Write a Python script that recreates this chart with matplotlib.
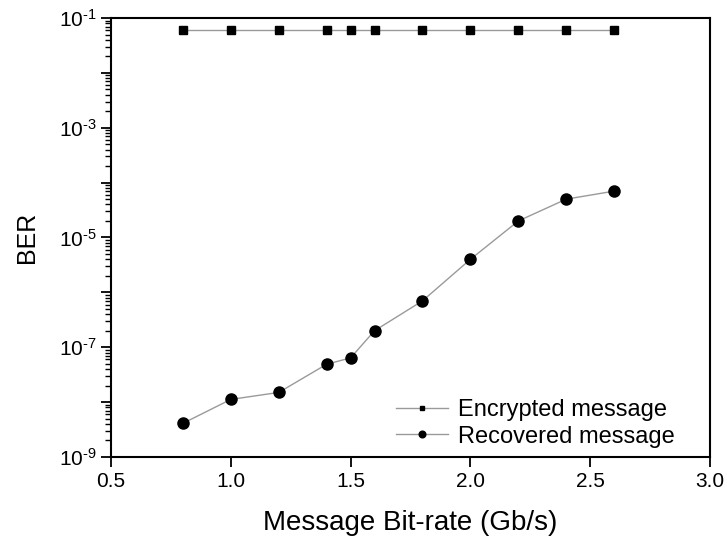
import numpy as np
import matplotlib
matplotlib.use("Agg")
import matplotlib.pyplot as plt
from matplotlib.ticker import LogLocator, FixedLocator, NullFormatter

plt.rcParams['font.family'] = ['Liberation Sans', 'DejaVu Sans']
plt.rcParams['mathtext.fontset'] = 'custom'
plt.rcParams['mathtext.rm'] = 'Liberation Sans'
plt.rcParams['mathtext.it'] = 'Liberation Sans'

# bit-rates (Gb/s)
bitrate = [0.8, 1.0, 1.2, 1.4, 1.5, 1.6, 1.8, 2.0, 2.2, 2.4, 2.6]
ber_encrypted = [6e-2] * len(bitrate)
ber_recovered = [4.1e-9, 1.12e-8, 1.5e-8, 4.9e-8, 6.4e-8, 2.0e-7,
                 7.0e-7, 4.0e-6, 2.0e-5, 5.0e-5, 7.0e-5]

fig = plt.figure(figsize=(7.27, 5.41), dpi=100)
ax = fig.add_axes([0.1527, 0.1553, 0.8239, 0.8114])

ax.plot(bitrate, ber_encrypted, color='#9a9a9a', lw=1.0, marker='s', ms=6,
        mfc='black', mec='black', label='Encrypted message')
ax.plot(bitrate, ber_recovered, color='#9a9a9a', lw=1.0, marker='o', ms=8,
        mfc='black', mec='black', label='Recovered message')

ax.set_yscale('log')
ax.set_xlim(0.5, 3.0)
ax.set_ylim(1e-9, 1e-1)
ax.set_xticks([0.5, 1.0, 1.5, 2.0, 2.5, 3.0])
ax.set_xticklabels(['0.5', '1.0', '1.5', '2.0', '2.5', '3.0'])

# labels every other decade, hyphen in the exponent like the original
ax.yaxis.set_major_locator(FixedLocator([10.0**k for k in range(-9, 0)]))
ylabels = [r'$10^{\text{-%d}}$' % -k if k % 2 else '' for k in range(-9, 0)]
ax.set_yticklabels(ylabels)
ax.yaxis.set_minor_locator(LogLocator(base=10, subs=np.arange(2, 10), numticks=20))
ax.yaxis.set_minor_formatter(NullFormatter())

ax.tick_params(axis='both', which='major', direction='out', length=7, width=1.3,
               labelsize=15, top=False, right=False)
ax.tick_params(axis='y', which='minor', direction='out', length=4, width=1.0,
               right=False)
for s in ax.spines.values():
    s.set_linewidth(1.5)

ax.set_xlabel('Message Bit-rate (Gb/s)', fontsize=20, labelpad=14)
ax.set_ylabel('BER', fontsize=18, labelpad=14)

ax.legend(loc='lower right', bbox_to_anchor=(0.957, 0.0), borderaxespad=0,
          frameon=False, fontsize=17, markerscale=0.6, handlelength=2.2,
          handletextpad=0.42, labelspacing=0.2)

plt.savefig('out.png', dpi=100)
